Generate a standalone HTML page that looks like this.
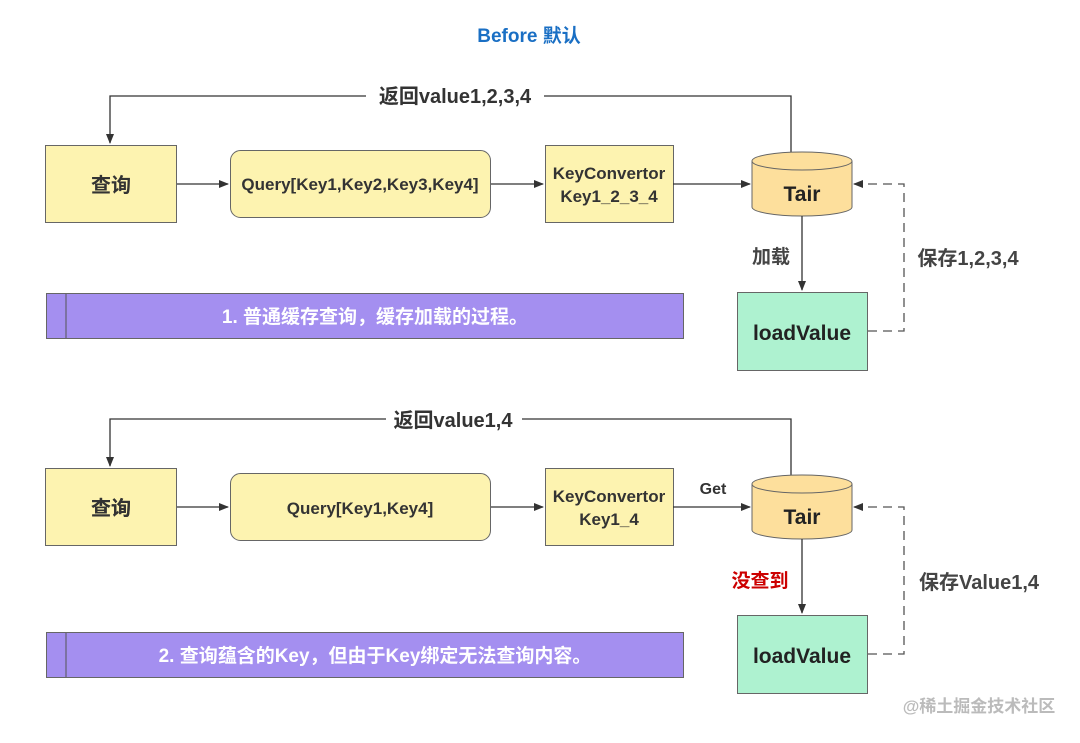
<!DOCTYPE html>
<html><head><meta charset="utf-8"><style>
body{margin:0;background:#fff;}
text{font-family:"Liberation Sans","Noto Sans CJK SC",sans-serif;font-weight:bold;}
</style></head><body>
<svg width="1080" height="738" viewBox="0 0 1080 738" xmlns="http://www.w3.org/2000/svg">
<defs><marker id="a" markerWidth="10" markerHeight="10" refX="9" refY="5" orient="auto" markerUnits="userSpaceOnUse"><path d="M0,1 L10,5 L0,9 z" fill="#333"/></marker></defs>
<text x="529" y="42" font-size="19" fill="#1a6fc4" text-anchor="middle">Before 默认</text>
<g id="s">
<polyline points="791,153 791,96 110,96 110,143" fill="none" stroke="#333" stroke-width="1.3" marker-end="url(#a)"/>
<rect x="45.5" y="145.5" width="131" height="77" fill="#fdf3b0" stroke="#666"/>
<text x="111" y="192" font-size="20" fill="#333" text-anchor="middle" font-weight="normal">查询</text>
<line x1="177" y1="184" x2="228" y2="184" stroke="#333" stroke-width="1.3" marker-end="url(#a)"/>
<rect x="230.5" y="150.5" width="260" height="67" rx="10" fill="#fdf3b0" stroke="#666"/>
<line x1="491" y1="184" x2="543" y2="184" stroke="#333" stroke-width="1.3" marker-end="url(#a)"/>
<rect x="545.5" y="145.5" width="128" height="77" fill="#fdf3b0" stroke="#666"/>
<line x1="673" y1="184" x2="750" y2="184" stroke="#333" stroke-width="1.3" marker-end="url(#a)"/>
<path d="M752,161 L752,207 A50,9 0 0 0 852,207 L852,161" fill="#fddf9c" stroke="#666"/>
<ellipse cx="802" cy="161" rx="50" ry="9" fill="#fddf9c" stroke="#666"/>
<text x="802" y="201" font-size="21" fill="#222" text-anchor="middle">Tair</text>
<line x1="802" y1="216" x2="802" y2="290" stroke="#333" stroke-width="1.3" marker-end="url(#a)"/>
<rect x="737.5" y="292.5" width="130" height="78" fill="#aef2d0" stroke="#666"/>
<text x="802" y="340" font-size="21" fill="#222" text-anchor="middle">loadValue</text>
<polyline points="868,331 904,331 904,184 854,184" fill="none" stroke="#555" stroke-width="1.3" stroke-dasharray="9,6" marker-end="url(#a)"/>
</g>
<use href="#s" y="323"/>
<rect x="46.5" y="293.5" width="637" height="45" fill="#a48ff0" stroke="#666"/>
<line x1="66" y1="294" x2="66" y2="338" stroke="#555"/>
<rect x="46.5" y="632.5" width="637" height="45" fill="#a48ff0" stroke="#666"/>
<line x1="66" y1="633" x2="66" y2="677" stroke="#555"/>
<rect x="366" y="84" width="178" height="24" fill="#fff"/>
<rect x="386" y="408" width="136" height="24" fill="#fff"/>
<text x="455" y="103" font-size="20" fill="#333" text-anchor="middle">返回value1,2,3,4</text>
<text x="453" y="427" font-size="20" fill="#333" text-anchor="middle">返回value1,4</text>
<g font-size="17" fill="#333" text-anchor="middle">
<text x="360" y="190">Query[Key1,Key2,Key3,Key4]</text>
<text x="609" y="179">KeyConvertor</text>
<text x="609" y="202">Key1_2_3_4</text>
<text x="360" y="514">Query[Key1,Key4]</text>
<text x="609" y="502">KeyConvertor</text>
<text x="609" y="525">Key1_4</text>
</g>
<text x="111" y="515" font-size="20" fill="#333" text-anchor="middle" font-weight="normal">查询</text>
<text x="713" y="494" font-size="16" fill="#333" text-anchor="middle">Get</text>
<text x="771" y="263" font-size="19" fill="#444" text-anchor="middle">加载</text>
<text x="760" y="587" font-size="19" fill="#c00" text-anchor="middle">没查到</text>
<text x="968" y="265" font-size="20" fill="#444" text-anchor="middle">保存1,2,3,4</text>
<text x="979" y="589" font-size="20" fill="#444" text-anchor="middle">保存Value1,4</text>
<text x="375" y="323" font-size="19" fill="#fff" text-anchor="middle">1. 普通缓存查询，缓存加载的过程。</text>
<text x="375" y="662" font-size="19" fill="#fff" text-anchor="middle">2. 查询蕴含的Key，但由于Key绑定无法查询内容。</text>
<text x="979" y="712" font-size="17" fill="#bbb" text-anchor="middle" font-weight="normal">@稀土掘金技术社区</text>
</svg>
</body></html>
